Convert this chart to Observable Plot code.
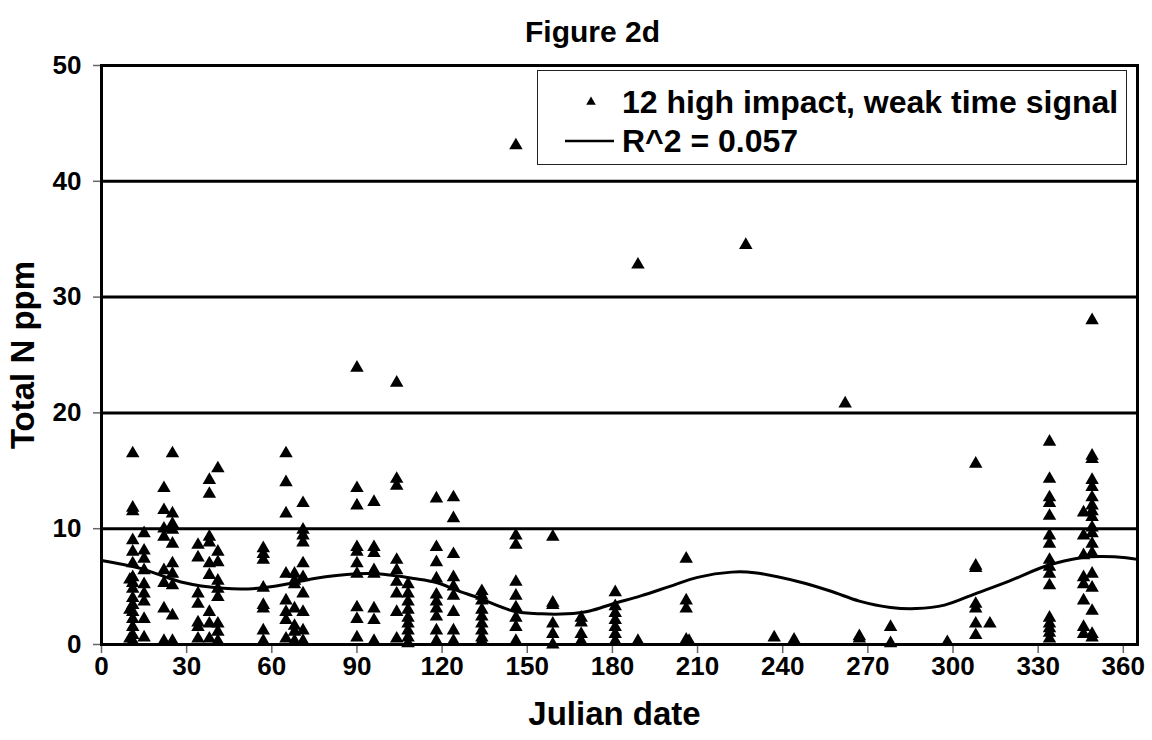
<!DOCTYPE html>
<html>
<head>
<meta charset="utf-8">
<script src="https://cdn.jsdelivr.net/npm/d3@7"></script>
<script src="https://cdn.jsdelivr.net/npm/@observablehq/plot@0.6"></script>
<style>
  html, body { margin: 0; padding: 0; background: white; }
  #wrap { position: relative; width: 1152px; height: 740px; font-family: "Liberation Sans", Arial, sans-serif; font-weight: bold; }
  #legend { position: absolute; left: 537px; top: 70px; width: 590px; height: 95px; border: 1.5px solid #222; background: white; box-sizing: border-box; }
  .row { position: absolute; left: 0; font-size: 32px; line-height: 1; white-space: nowrap; }
</style>
</head>
<body>
<div id="wrap"></div>
<script>
// ---- data ----
const title = "Figure 2d";
const xLabel = "Julian date";
const yLabel = "Total N ppm";
const seriesName = "12 high impact, weak time signal";
const trendName = "R^2 = 0.057";

const xTicks = [0, 30, 60, 90, 120, 150, 180, 210, 240, 270, 300, 330, 360];
const yTicks = [0, 10, 20, 30, 40, 50];
const gridValues = [10, 20, 30, 40];

// sampling days and the Total N values measured on each day
const sampleDays = [10, 11, 15, 22, 25, 34, 38, 41, 57, 65, 68, 71, 90, 96, 104, 108, 118, 124, 134, 146, 159, 169, 181, 189, 206, 207, 227, 237, 244, 262, 267, 278, 298, 308, 313, 334, 346, 349];
const sampleValues = [
  [5.6, 3.0, 0.5],
  [16.5, 11.8, 11.5, 9.0, 8.0, 7.0, 5.8, 5.3, 4.8, 4.0, 3.4, 2.8, 2.2, 1.5, 0.8, 0.3],
  [9.6, 8.1, 7.4, 6.4, 5.2, 4.4, 3.7, 2.2, 0.6],
  [13.5, 11.6, 10.0, 9.3, 6.4, 5.3, 3.1, 0.3],
  [16.5, 11.3, 10.4, 9.9, 8.7, 7.0, 6.1, 5.1, 2.5, 0.3],
  [8.6, 7.5, 4.4, 3.5, 1.9, 1.5, 0.5],
  [14.2, 13.0, 9.3, 8.8, 7.0, 6.0, 2.8, 1.8, 0.5],
  [15.2, 8.0, 7.1, 5.5, 4.8, 4.1, 1.8, 1.1, 0.3],
  [8.3, 7.8, 7.3, 4.9, 3.4, 3.1, 1.2, 0.3],
  [16.5, 14.0, 11.3, 6.1, 3.8, 2.8, 2.1, 0.5],
  [6.1, 5.5, 5.2, 3.1, 1.6, 1.1, 0.3],
  [12.2, 9.9, 9.4, 8.8, 7.0, 5.8, 4.4, 2.8, 1.2, 0.3],
  [23.9, 13.5, 12.0, 8.4, 8.0, 7.0, 6.1, 3.2, 2.2, 0.6],
  [12.3, 8.4, 7.9, 6.4, 6.1, 3.1, 2.1, 0.3],
  [22.6, 14.3, 13.7, 7.3, 6.4, 5.4, 4.4, 2.8, 0.5],
  [5.2, 4.4, 3.7, 3.0, 2.3, 1.8, 1.2, 0.6, 0.1],
  [12.6, 8.4, 7.1, 5.7, 4.3, 3.7, 3.1, 2.4, 1.2, 0.3],
  [12.7, 10.9, 7.8, 5.8, 5.0, 4.2, 2.8, 1.2, 0.3],
  [4.6, 4.2, 3.8, 3.0, 2.4, 1.8, 1.2, 0.6, 0.3],
  [43.1, 9.4, 8.6, 5.4, 4.2, 3.2, 2.3, 1.5, 0.3],
  [9.3, 3.6, 3.4, 1.8, 0.9, 0.0],
  [2.3, 1.9, 0.9, 0.3],
  [4.5, 3.3, 2.7, 2.1, 1.5, 0.9, 0.3],
  [32.8, 0.3],
  [7.4, 3.8, 3.1, 0.4],
  [0.3],
  [34.5],
  [0.6],
  [0.4],
  [20.8],
  [0.5, 0.7],
  [1.5, 0.1],
  [0.2],
  [15.6, 6.8, 6.6, 3.5, 3.1, 1.8, 0.8],
  [1.8],
  [17.5, 14.3, 12.7, 12.2, 11.1, 9.4, 8.7, 7.3, 6.7, 6.1, 5.1, 2.3, 1.8, 1.4, 1.0, 0.5],
  [11.4, 9.4, 7.7, 5.8, 5.2, 3.8, 1.5, 0.9],
  [28.0, 16.3, 16.0, 14.2, 13.6, 12.7, 12.0, 11.5, 11.0, 10.1, 9.6, 8.7, 7.9, 6.1, 4.9, 2.9, 0.9, 0.6]
];

// fitted trend curve
const trendDays   = [0, 14, 28, 43, 55, 66, 75, 90, 97, 110, 118, 125, 133, 145, 155, 164, 172, 180, 190, 200, 210, 222, 230, 246, 257, 267, 278, 287, 297, 308, 320, 333, 345, 352, 361, 365];
const trendValues = [7.25, 6.55, 5.4, 4.85, 4.85, 5.25, 5.7, 6.1, 6.1, 5.7, 5.35, 4.7, 4.0, 2.9, 2.65, 2.65, 2.9, 3.5, 4.2, 5.0, 5.8, 6.25, 6.2, 5.4, 4.6, 3.75, 3.2, 3.1, 3.4, 4.4, 5.5, 6.8, 7.5, 7.6, 7.5, 7.35];

// ---- build tables ----
const points = sampleDays.flatMap((d, i) => sampleValues[i].map(v => ({day: d, n: v})));
const trend = trendDays.map((d, i) => ({day: d, n: trendValues[i]}));

const chart = Plot.plot({
  width: 1152,
  height: 740,
  marginLeft: 101,
  marginRight: 15,
  marginTop: 65,
  marginBottom: 96,
  style: {fontFamily: "'Liberation Sans', Arial, sans-serif", fontWeight: "bold", fontSize: "26px", color: "black", background: "white", overflow: "visible"},
  x: {domain: [0, 365]},
  y: {domain: [0, 50]},
  marks: [
    Plot.ruleY(gridValues, {stroke: "black", strokeWidth: 3}),
    Plot.axisX(xTicks, {tickSize: 9, tickPadding: 3, stroke: "#666", strokeWidth: 1.5, fontSize: 26, label: null}),
    Plot.axisY(yTicks, {tickSize: 8, tickPadding: 12, stroke: "#666", strokeWidth: 1.5, fontSize: 26, label: null}),
    Plot.line(trend, {x: "day", y: "n", curve: "catmull-rom", stroke: "black", strokeWidth: 3}),
    Plot.dot(points, {x: "day", y: "n", symbol: "triangle", fill: "black", stroke: "none", r: 5}),
    Plot.frame({stroke: "black", strokeWidth: 3}),
    Plot.text([yLabel], {text: d => d, frameAnchor: "left", dx: -78, rotate: -90, textAnchor: "middle", fontSize: 33}),
    Plot.text([xLabel], {text: d => d, frameAnchor: "bottom", dy: 80, textAnchor: "middle", fontSize: 33, dx: -5}),
    Plot.text([title], {text: d => d, frameAnchor: "top", dy: -45, textAnchor: "middle", fontSize: 30, dx: -27})
  ]
});

const wrap = document.getElementById("wrap");
wrap.appendChild(chart);

// legend box
const legend = document.createElement("div");
legend.id = "legend";
legend.innerHTML = `
  <svg width="590" height="95" style="position:absolute;left:0;top:0">
    <path d="${d3.symbol(d3.symbolTriangle, 40)()}" transform="translate(53,31)" fill="black"/>
    <line x1="27" x2="76" y1="70" y2="70" stroke="black" stroke-width="2.5"/>
  </svg>
  <div class="row" style="left:84px; top:15px">${seriesName}</div>
  <div class="row" style="left:84px; top:54px">${trendName}</div>`;
wrap.appendChild(legend);
</script>
</body>
</html>
